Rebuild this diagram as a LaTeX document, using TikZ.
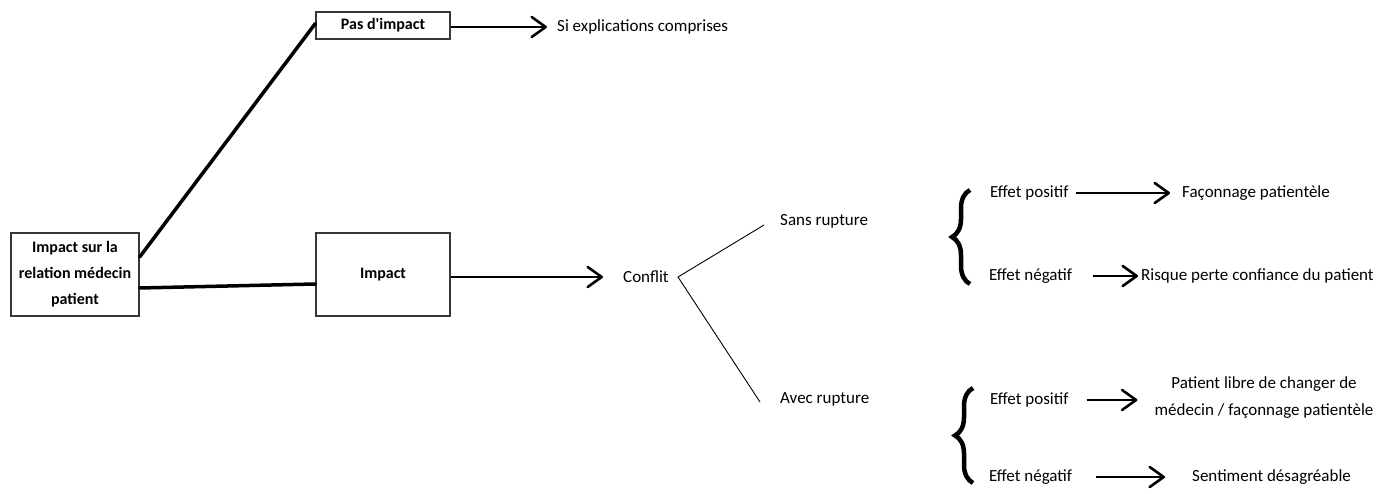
\documentclass[tikz,border=0pt]{standalone}
\usepackage{fontspec}
\setmainfont{Carlito}
\usetikzlibrary{arrows.meta, decorations.pathreplacing}

\definecolor{boxgray}{RGB}{55, 55, 55}

\tikzset{
  txt/.style={inner sep=0pt, anchor=west, font=\fontsize{17}{20}\selectfont},
  boxnode/.style={draw=boxgray, line width=1.3pt, inner sep=0pt, align=center, font=\bfseries\fontsize{16}{26}\selectfont},
  thickline/.style={line width=3.5pt, line cap=round},
  thinline/.style={line width=0.9pt},
  openarrow/.style={line width=1.3pt, -{Straight Barb[length=14pt, width=20pt, line width=2.6pt, round]}},
  bracebar/.style={line width=4.5pt, decorate, decoration={brace, amplitude=18pt}}
}

\begin{document}
\begin{tikzpicture}[x=1pt, y=-1pt]
  \useasboundingbox (0,0) rectangle (1383,494);

  % Boxes
  \node[boxnode, minimum width=128pt, minimum height=83pt] (main) at (75,274.5) {Impact sur la\\relation médecin\\patient};
  \node[boxnode, minimum width=134pt, minimum height=27pt] (pas) at (383,25.5) {Pas d\textquotesingle impact};
  \node[boxnode, minimum width=134pt, minimum height=83pt] (impact) at (383,274.5) {Impact};

  \draw[thickline] ([yshift=17.5pt]main.east) -- ([yshift=2pt]pas.west);
  \draw[thickline] ([yshift=-13.5pt]main.east) -- ([yshift=-9.5pt]impact.west);

  % Pas d'impact
  \node[txt] (si) at (557,27) {Si explications comprises};
  \draw[openarrow] (pas.east |- si.west) -- ([xshift=-10pt]si.west);

  % Impact
  \node[txt] (conflit) at (623,277) {Conflit};
  \draw[openarrow] (impact.east |- conflit.west) -- ([xshift=-20pt]conflit.west);

  \node[txt] (sans) at (780,221) {Sans rupture};
  \node[txt] (avec) at (780,399) {Avec rupture};
  \coordinate (fork) at (678,277);
  \coordinate (sansend) at (764,225);
  \coordinate (avecend) at (760,402);
  \draw[thinline] (sansend) -- (fork) -- (avecend);

  % Sans rupture
  \draw[bracebar] (970,284) -- (970,190);
  \node[txt] (pos1) at (990,193) {Effet positif};
  \node[txt] (pos1r) at (1182,193) {Façonnage patientèle};
  \draw[openarrow] ([xshift=7pt]pos1.east) -- ([xshift=-12pt]pos1r.west);
  \node[txt] (neg1) at (989,276) {Effet négatif};
  \node[txt] (neg1r) at (1141,276) {Risque perte confiance du patient};
  \draw[openarrow] ([xshift=21pt]neg1.east) -- ([xshift=-3pt]neg1r.west);

  % Avec rupture
  \draw[bracebar] (973,483) -- (973,388);
  \node[txt] (pos2) at (990,400) {Effet positif};
  \node[txt, anchor=center, align=center, font=\fontsize{17}{27}\selectfont] (pos2r) at (1264,398) {Patient libre de changer de\\médecin / façonnage patientèle};
  \draw[openarrow] ([xshift=18pt]pos2.east) -- ([xshift=-17pt]pos2r.west |- pos2.east);
  \node[txt] (neg2) at (989,477) {Effet négatif};
  \node[txt] (neg2r) at (1192,477) {Sentiment désagréable};
  \draw[openarrow] ([xshift=24pt]neg2.east) -- ([xshift=-27pt]neg2r.west);
\end{tikzpicture}
\end{document}
